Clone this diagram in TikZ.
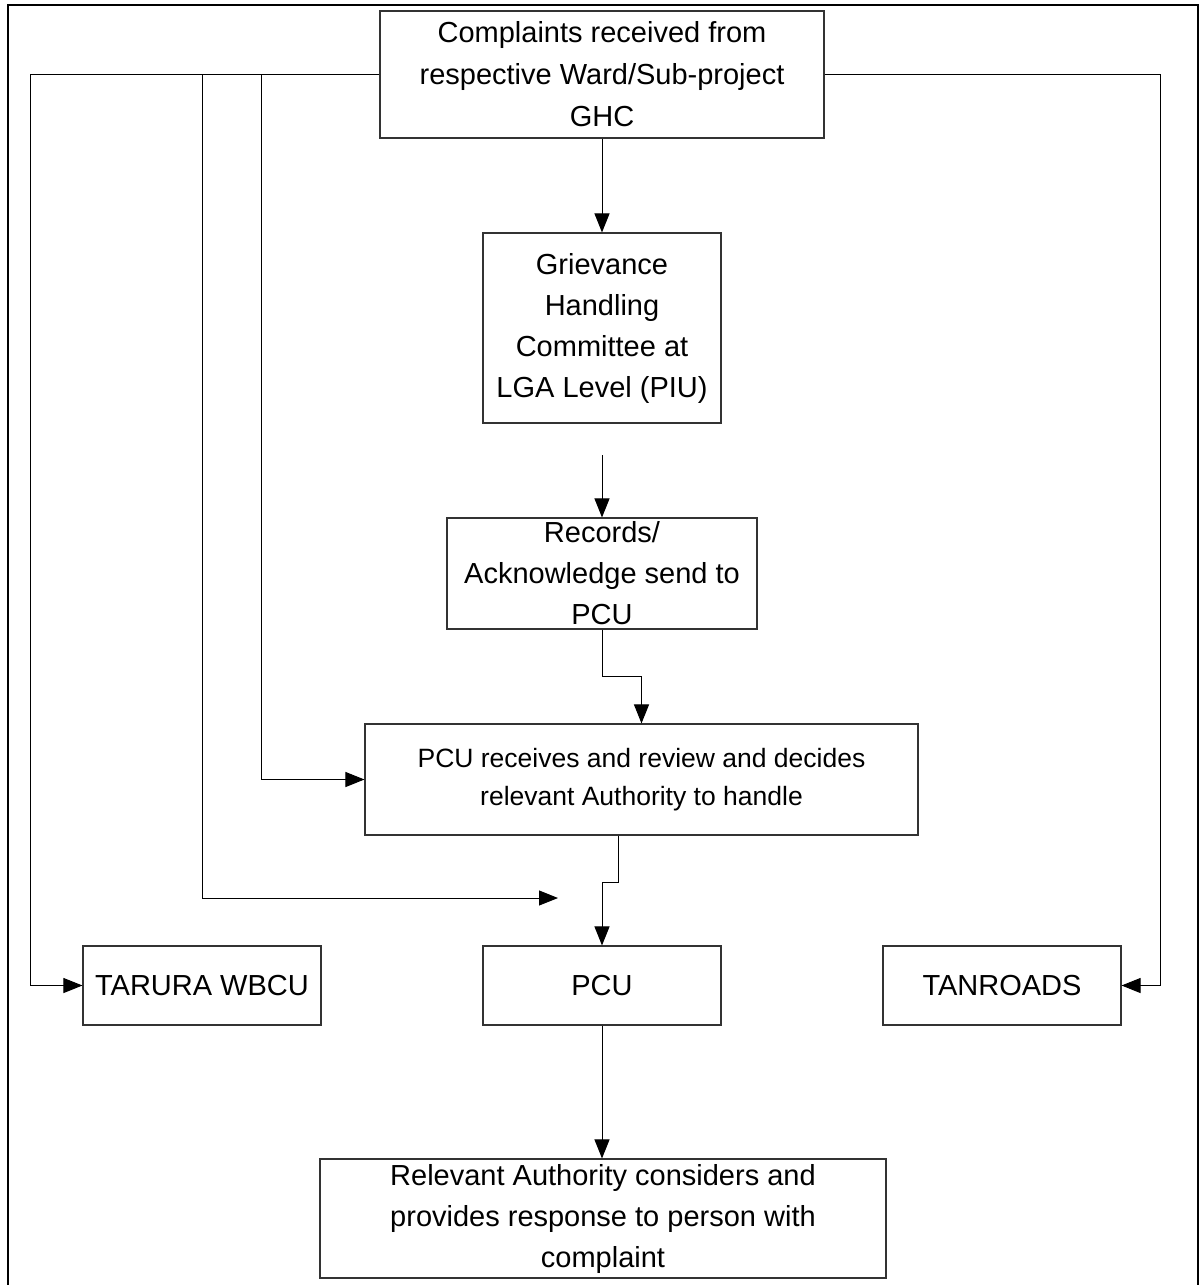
\documentclass[tikz,border=0pt]{standalone}
\usepackage{fontspec}
\setmainfont{Liberation Sans}
\usetikzlibrary{arrows.meta}
\begin{document}
\begin{tikzpicture}[x=1pt,y=-1pt,
  box/.style={draw=black!80, line width=1.1pt, fill=white, inner sep=0pt, align=center,
    font=\fontsize{29}{41}\selectfont},
  conn/.style={line width=1pt, draw=black},
  arr/.style={conn, -{Triangle[length=19pt,width=15pt]}}]
\useasboundingbox (0,0) rectangle (1200,1285);
\fill[white] (0,0) rectangle (1200,1285);
\draw[line width=1.6pt] (8,1290) -- (8,5) -- (1198,5) -- (1198,1290);

\node[box, minimum width=444pt, minimum height=127pt, font=\fontsize{29}{42}\selectfont] (top) at (602,74.5)
  {Complaints received from\\respective Ward/Sub-project\\GHC};
\node[box, minimum width=238pt, minimum height=190pt] (ghc) at (602,328)
  {Grievance\\Handling\\Committee at\\LGA Level (PIU)};
\node[box, minimum width=310pt, minimum height=111pt] (rec) at (602,573.5)
  {Records/\\Acknowledge send to\\PCU};
\node[box, minimum width=553pt, minimum height=111pt, font=\fontsize{26.5}{38}\selectfont] (pcur) at (641.5,779.5)
  {PCU receives and review and decides\\relevant Authority to handle};
\node[box, minimum width=238pt, minimum height=79pt] (tarura) at (202,985.5) {TARURA WBCU};
\node[box, minimum width=238pt, minimum height=79pt] (pcu) at (602,985.5) {PCU};
\node[box, minimum width=238pt, minimum height=79pt] (tanroads) at (1002,985.5) {TANROADS};
\node[box, minimum width=566pt, minimum height=119pt] (bot) at (603,1218.5)
  {Relevant Authority considers and\\provides response to person with\\complaint};

\coordinate (b1) at (202,74.5);
\coordinate (b2) at (261,74.5);
\coordinate (g2) at (602,455);
\coordinate (e1) at (558,898);

\draw[arr] (top) -- (ghc);
\draw[arr] (g2) -- (rec.north);
\draw[arr] (rec.south) -- ++(0,47) -| (pcur.north);
\draw[arr] (top.west) -| ([xshift=-52pt]tarura.west) -- (tarura.west);
\draw[arr] (b1) |- (e1);
\draw[arr] (b2) |- (pcur.west);
\draw[arr] (top.east) -| ([xshift=39pt]tanroads.east) -- (tanroads.east);
\draw[arr] ([xshift=-23.5pt]pcur.south) -- ++(0,47) -| (pcu.north);
\draw[arr] (pcu.south) -- (pcu.south |- bot.north);
\end{tikzpicture}
\end{document}
